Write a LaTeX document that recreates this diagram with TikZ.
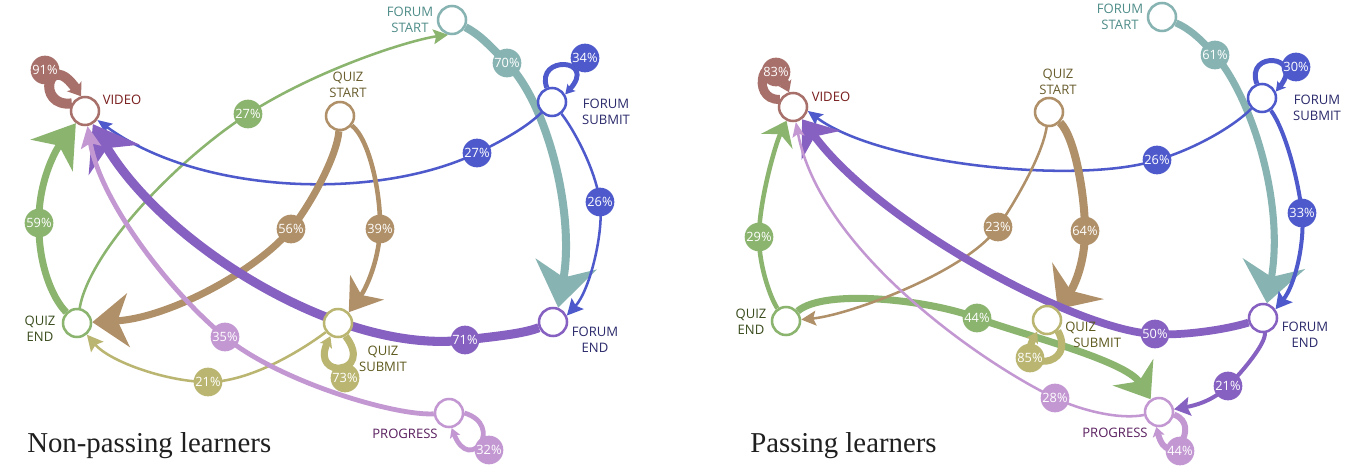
\documentclass[tikz,border=0pt]{standalone}
\usepackage{fontspec}
\setmainfont{Liberation Serif}
\newfontfamily\labfont{Open Sans}
\usetikzlibrary{arrows.meta}
\pgfdeclarelayer{bg}
\pgfsetlayers{bg,main}
\definecolor{cvid}{HTML}{A8706A}
\definecolor{cgrn}{HTML}{8BB46F}
\definecolor{cteal}{HTML}{87B4B2}
\definecolor{cblue}{HTML}{4E5ACB}
\definecolor{cbrn}{HTML}{B09068}
\definecolor{coli}{HTML}{BAB671}
\definecolor{cpur}{HTML}{8661C1}
\definecolor{clil}{HTML}{C398D2}
\definecolor{tvid}{HTML}{7A1E1E}
\definecolor{tteal}{HTML}{4F8D89}
\definecolor{tnavy}{HTML}{2B2A6B}
\definecolor{tqs}{HTML}{6A5E2E}
\definecolor{tqe}{HTML}{3A4D1E}
\definecolor{tqsub}{HTML}{5E5A1E}
\definecolor{tpr}{HTML}{5A1F5F}
\tikzset{
  st/.style={circle, draw=#1, fill=white, line width=1.9pt, minimum size=21pt, inner sep=0pt},
  bd/.style={circle, fill=#1, text=white, minimum size=21.5pt, inner sep=0pt, font=\labfont\fontsize{9.6}{10}\selectfont},
  lb/.style={text=#1, font=\labfont\fontsize{9.8}{12}\selectfont, align=center, inner sep=0pt},
  captext/.style={anchor=base west, inner sep=0pt, text=black!88, font=\fontsize{21.6}{24}\selectfont},
  tp/.style n args={3}{-{Stealth[length=#1,width=#2,inset=#3]}}
}
\begin{document}
\begin{tikzpicture}[x=0.75pt,y=-0.75pt]
\useasboundingbox (0,0) rectangle (1349,474);
% ---------------- left graph: nodes
\node[st=cvid] (v1) at (85,111) {};
\node[st=cteal] (fs1) at (452,20) {};
\node[st=cblue] (fsub1) at (552,102) {};
\node[st=cbrn] (qs1) at (340,116) {};
\node[st=cgrn] (qe1) at (77,323) {};
\node[st=coli] (qsub1) at (338,323) {};
\node[st=cpur] (fe1) at (553,322) {};
\node[st=clil] (pr1) at (449,413) {};
\node[lb=tvid] (lv1) at (122,100) {VIDEO};
\node[lb=tteal] (lfs1) at (410,20) {FORUM\\START};
\node[lb=tnavy] (lfsub1) at (606,112) {FORUM\\SUBMIT};
\node[lb=tqs] (lqs1) at (348,85) {QUIZ\\START};
\node[lb=tqe] (lqe1) at (40,329) {QUIZ\\END};
\node[lb=tqsub] (lqsub1) at (383,359) {QUIZ\\SUBMIT};
\node[lb=tnavy] (lfe1) at (595,340) {FORUM\\END};
\node[lb=tpr] (lpr1) at (405,434) {PROGRESS};
% badges
\node[bd=cvid] (b91) at (45,70) {91\%};
\node[bd=cgrn] (b59) at (39,223) {59\%};
\node[bd=cgrn] (b27g) at (248,114) {27\%};
\node[bd=cteal] (b70) at (507,63) {70\%};
\node[bd=cblue] (b34) at (585,58) {34\%};
\node[bd=cblue] (b27b) at (477,153) {27\%};
\node[bd=cblue] (b26) at (600,202) {26\%};
\node[bd=cbrn] (b56) at (291,229) {56\%};
\node[bd=cbrn] (b39) at (380,229) {39\%};
\node[bd=coli] (b21) at (208,382) {21\%};
\node[bd=coli] (b73) at (345,378) {73\%};
\node[bd=cpur] (b71) at (465,340) {71\%};
\node[bd=clil] (b35) at (225,337) {35\%};
\node[bd=clil] (b32) at (489,450) {32\%};
\node[captext] (cap1) at (27,452) {Non-passing learners};
% ---------------- right graph: nodes
\node[st=cvid] (v2) at (793,107) {};
\node[st=cteal] (fs2) at (1162,17) {};
\node[st=cblue] (fsub2) at (1262,98) {};
\node[st=cbrn] (qs2) at (1049,112) {};
\node[st=cgrn] (qe2) at (786,321) {};
\node[st=coli] (qsub2) at (1047,320) {};
\node[st=cpur] (fe2) at (1263,318) {};
\node[st=clil] (pr2) at (1159,412) {};
\node[lb=tvid] (lv2) at (831,97) {VIDEO};
\node[lb=tteal] (lfs2) at (1120,17) {FORUM\\START};
\node[lb=tnavy] (lfsub2) at (1317,108) {FORUM\\SUBMIT};
\node[lb=tqs] (lqs2) at (1058,82) {QUIZ\\START};
\node[lb=tqe] (lqe2) at (751,322) {QUIZ\\END};
\node[lb=tqsub, anchor=north west, align=left] (lqsub2) at (1065,322) {QUIZ\\\hspace*{6pt}SUBMIT};
\node[lb=tnavy] (lfe2) at (1305,335) {FORUM\\END};
\node[lb=tpr] (lpr2) at (1115,433) {PROGRESS};
\node[bd=cvid] (b83) at (776,72) {83\%};
\node[bd=cgrn] (b29) at (759,237) {29\%};
\node[bd=cgrn] (b44g) at (977,318) {44\%};
\node[bd=cteal] (b61) at (1215,55) {61\%};
\node[bd=cblue] (b30) at (1296,67) {30\%};
\node[bd=cblue] (b26r) at (1157,160) {26\%};
\node[bd=cblue] (b33) at (1302,213) {33\%};
\node[bd=cbrn] (b64) at (1085,231) {64\%};
\node[bd=cbrn] (b23) at (998,227) {23\%};
\node[bd=coli] (b85) at (1030,358) {85\%};
\node[bd=cpur] (b50) at (1155,334) {50\%};
\node[bd=cpur] (b21r) at (1228,386) {21\%};
\node[bd=clil] (b28) at (1055,398) {28\%};
\node[bd=clil] (b44l) at (1180,451) {44\%};
\node[captext] (cap2) at (750,452) {Passing learners};
% ---------------- connectors
\begin{pgfonlayer}{bg}
\fill[white] (0,0) rectangle (1349,474);
% left
\draw[cvid, line width=7.5pt, tp={9pt}{13pt}{2pt}] (v1.150) .. controls (35,108) and (48,48) .. (v1.105);
\draw[cgrn, line width=5.2pt, tp={30pt}{39pt}{9pt}] (qe1) .. controls (52,298) and (38,263) .. (b59.center) .. controls (38,183) and (55,151) .. (v1);
\draw[cgrn, line width=1.9pt, tp={11pt}{11pt}{2pt}] (qe1) .. controls (90,250) and (178,159) .. (b27g.center) .. controls (318,69) and (410,40) .. (fs1.255);
\draw[cteal, line width=6pt, tp={33pt}{46pt}{10pt}] (fs1) .. controls (480,35) and (487,43) .. (b70.center) .. controls (548,104) and (575,215) .. (fe1.70);
\draw[cblue, line width=3.7pt, tp={7pt}{8pt}{1.5pt}] (fsub1.110) .. controls (535,55) and (598,58) .. (fsub1.30);
\draw[cblue, line width=1.9pt, tp={11pt}{9pt}{2pt}] (fsub1) .. controls (527,127) and (502,141) .. (b27b.center) .. controls (377,201) and (200,195) .. (v1);
\draw[cblue, line width=1.9pt, tp={12pt}{12pt}{2pt}] (fsub1) .. controls (572,127) and (595,167) .. (b26.center) .. controls (604,232) and (590,290) .. (fe1.25);
\draw[cbrn, line width=5.3pt, tp={27pt}{40pt}{8pt}] (qs1) .. controls (337,156) and (311,204) .. (b56.center) .. controls (259,269) and (170,318) .. (qe1);
\draw[cbrn, line width=3.4pt, tp={23pt}{31pt}{7pt}] (qs1) .. controls (370,140) and (381,195) .. (b39.center) .. controls (379,262) and (365,290) .. (qsub1.45);
\draw[coli, line width=1.9pt, tp={12pt}{12pt}{2pt}] (qsub1) .. controls (298,353) and (248,382) .. (b21.center) .. controls (168,382) and (110,362) .. (qe1);
\draw[coli, line width=5.3pt, tp={8pt}{10pt}{2pt}] (qsub1.-60) .. controls (375,375) and (310,380) .. (qsub1.-120);
\draw[cpur, line width=6.8pt, tp={31pt}{44pt}{10pt}] (fe1) .. controls (523,334) and (490,337) .. (b71.center) .. controls (340,355) and (165,245) .. (v1);
\draw[clil, line width=3.6pt, tp={16pt}{15pt}{3pt}] (pr1) .. controls (395,416) and (280,382) .. (b35.center) .. controls (170,292) and (100,201) .. (v1);
\draw[clil, line width=3.6pt, tp={7pt}{8pt}{1.5pt}] (pr1.0) .. controls (505,425) and (470,475) .. (pr1.-80);
% right
\draw[cvid, line width=6.8pt, tp={8pt}{11pt}{2pt}] (v2.150) .. controls (748,101) and (765,40) .. (v2.105);
\draw[cgrn, line width=3.4pt, tp={17pt}{26pt}{6pt}] (qe2) .. controls (771,299) and (759,267) .. (b29.center) .. controls (759,202) and (775,145) .. (v2);
\draw[cgrn, line width=5.3pt, tp={24pt}{36pt}{8pt}] (qe2) .. controls (825,288) and (930,300) .. (b44g.center) .. controls (1020,334) and (1125,360) .. (pr2);
\draw[cteal, line width=5.3pt, tp={30pt}{47pt}{10pt}] (fs2) .. controls (1188,28) and (1200,38) .. (b61.center) .. controls (1250,95) and (1285,200) .. (fe2.75);
\draw[cblue, line width=3.7pt, tp={7pt}{8pt}{1.5pt}] (fsub2.110) .. controls (1245,50) and (1305,55) .. (fsub2.25);
\draw[cblue, line width=1.9pt, tp={11pt}{10pt}{2pt}] (fsub2) .. controls (1232,128) and (1192,150) .. (b26r.center) .. controls (1080,185) and (880,165) .. (v2.-15);
\draw[cblue, line width=3pt, tp={12pt}{13pt}{2pt}] (fsub2) .. controls (1285,130) and (1298,178) .. (b33.center) .. controls (1305,243) and (1295,285) .. (fe2.35);
\draw[cbrn, line width=6pt, tp={26pt}{47pt}{9pt}] (qs2) .. controls (1075,137) and (1085,196) .. (b64.center) .. controls (1085,261) and (1075,285) .. (qsub2.45);
\draw[cbrn, line width=1.9pt, tp={11pt}{11pt}{2pt}] (qs2) .. controls (1042,157) and (1013,205) .. (b23.center) .. controls (968,271) and (850,315) .. (qe2);
\draw[coli, line width=5.3pt, tp={8pt}{10pt}{2pt}] (qsub2.-45) .. controls (1078,368) and (1015,372) .. (qsub2.-130);
\draw[cpur, line width=5.8pt, tp={24pt}{36pt}{8pt}] (fe2) .. controls (1225,330) and (1180,336) .. (b50.center) .. controls (1080,332) and (880,225) .. (v2);
\draw[cpur, line width=3pt, tp={12pt}{14pt}{2pt}] (fe2) .. controls (1266,343) and (1244,370) .. (b21r.center) .. controls (1212,402) and (1192,406) .. (pr2);
\draw[clil, line width=1.9pt, tp={11pt}{9pt}{2pt}] (pr2) .. controls (1119,420) and (1080,410) .. (b28.center) .. controls (980,362) and (820,250) .. (v2);
\draw[clil, line width=4.5pt, tp={7pt}{9pt}{1.5pt}] (pr2.-10) .. controls (1203,425) and (1168,473) .. (pr2.-100);
\end{pgfonlayer}
\end{tikzpicture}
\end{document}
